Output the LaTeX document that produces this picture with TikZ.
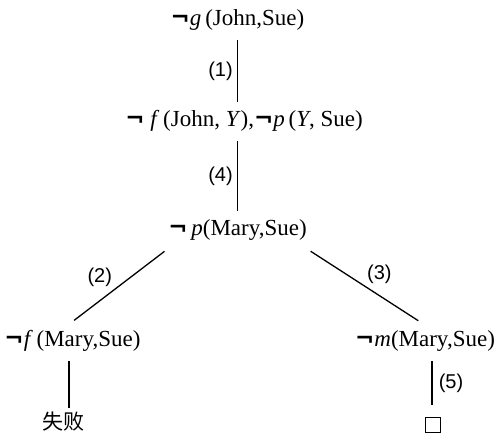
\documentclass[tikz,border=0pt]{standalone}
\usepackage{fontspec}
\setmainfont{Liberation Serif}
\setsansfont{Liberation Sans}
\newfontfamily\cjkfont{Noto Sans CJK SC}
\newfontfamily\symfont{DejaVu Sans}
\newcommand\Not{{\symfont\bfseries ¬}}
\usetikzlibrary{positioning}

\begin{document}
\begin{tikzpicture}[
  x=1pt, y=1pt,
  font=\fontsize{23}{27}\selectfont,
  clause/.style={anchor=base, inner xsep=2pt, inner ysep=9pt},
  fail/.style={font=\cjkfont\fontsize{21}{24}\selectfont, inner sep=4pt},
  empty/.style={draw, line width=0.9pt, minimum size=15pt, inner sep=0pt},
  lnk/.style={line width=1.6pt},
  num/.style={font=\sffamily\fontsize{20}{24}\selectfont, inner sep=2pt}
]
\useasboundingbox (0,0) rectangle (497,435);
% resolution tree
\node[clause] (g) at (237.5,409) {\Not\textit{g}\,(John,Sue)};
\node[clause] (fp) at (244,308) {\Not\ \textit{f}\,(John, \textit{Y}),\Not\textit{p}\,(\textit{Y}, Sue)};
\node[clause] (p) at (237.5,199) {\Not\,\textit{p}(Mary,Sue)};
\node[clause] (fm) at (72.5,88) {\Not\textit{f}\,(Mary,Sue)};
\node[clause] (m) at (425,88) {\Not\textit{m}(Mary,Sue)};
% leaves
\node[fail] (lose) at (63,13) {失败};
\node[empty] (nil) at (433,10.5) {};
\draw[lnk] (g.south) -- node[num, left=2pt] {(1)} (g.south |- fp.north);
\draw[lnk] (g.south |- fp.south) -- node[num, left=2pt] {(4)} (g.south |- p.north);
\draw[lnk, line width=1.3pt, shorten <=2pt, shorten >=2pt] (p.south west) -- node[num, above left, pos=0.55] {(2)} (fm.north);
\draw[lnk, line width=1.3pt, shorten <=2pt, shorten >=2pt] (p.south east) -- node[num, above right, pos=0.5] {(3)} ([xshift=-5pt]m.north);
\draw[lnk] ([xshift=-3.5pt]fm.south) -- ([xshift=-3.5pt]fm.south |- lose.north);
\draw[lnk, shorten >=12pt] ([xshift=7pt]m.south) -- node[num, right=4pt, pos=0.4] {(5)} ([xshift=7pt]m.south |- nil.north);
\end{tikzpicture}
\end{document}
